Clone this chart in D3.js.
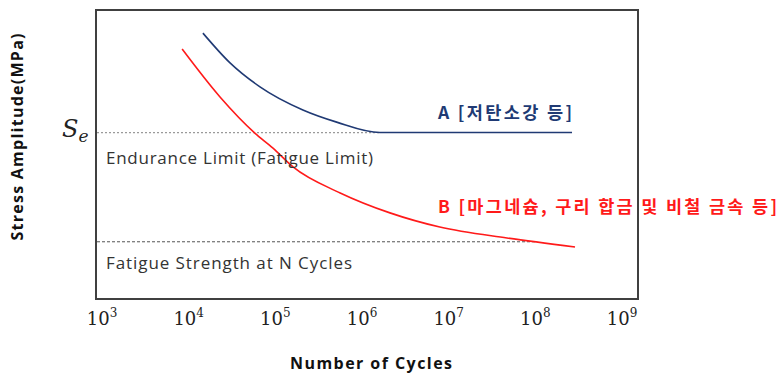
<!DOCTYPE html>
<html>
<head>
<meta charset="utf-8">
<script src="https://cdn.jsdelivr.net/npm/d3@7"></script>
<style>
  body { margin: 0; background: #fff; }
  svg { display: block; }
</style>
</head>
<body>
<script>
// tick exponents on the log axis
var exponents = [3, 4, 5, 6, 7, 8, 9];

// curve A (low carbon steel), cycles vs stress (arbitrary units)
var cyclesA = [1.46e4, 3.0e4, 6.65e4, 2.08e5, 5.1e5, 1.61e6, 2.65e8];
var stressA = [92.0, 81.7, 73.4, 65.4, 61.2, 57.6, 57.6];

// curve B (magnesium, copper alloy, non-ferrous)
var cyclesB = [8.4e3, 2.3e4, 5.8e4, 9.4e4, 1.6e5, 5.6e5, 2.1e6, 7.9e6, 4.7e7, 2.87e8];
var stressB = [86.5, 69.9, 57.4, 52.2, 45.7, 36.7, 29.8, 24.9, 21.1, 18.0];

var enduranceLimit = 57.6;
var enduranceEnd = 1.61e6;
var fatigueStrength = 19.8;
var fatigueEnd = 1.05e8;

var width = 781, height = 374;
var frame = { left: 96, top: 10, right: 638, bottom: 299 };

var svg = d3.select("body").append("svg")
  .attr("width", width)
  .attr("height", height);

var x = d3.scaleLog()
  .domain([1e3, 1e9])
  .range([102, 622]);

var y = d3.scaleLinear()
  .domain([0, 100])
  .range([frame.bottom, frame.top]);

// frame
svg.append("rect")
  .attr("x", frame.left)
  .attr("y", frame.top)
  .attr("width", frame.right - frame.left)
  .attr("height", frame.bottom - frame.top)
  .style("fill", "none")
  .style("stroke", "#404040")
  .style("stroke-width", 2);

// reference lines
svg.append("line")
  .attr("x1", frame.left + 1)
  .attr("x2", x(enduranceEnd))
  .attr("y1", y(enduranceLimit))
  .attr("y2", y(enduranceLimit))
  .style("stroke", "#9a9a9a")
  .style("stroke-width", 1.3)
  .style("stroke-dasharray", "2,2");

svg.append("line")
  .attr("x1", frame.left + 1)
  .attr("x2", x(fatigueEnd))
  .attr("y1", y(fatigueStrength))
  .attr("y2", y(fatigueStrength))
  .style("stroke", "#555")
  .style("stroke-width", 1)
  .style("stroke-dasharray", "3,2");

var line = d3.line()
  .x(function(d) { return x(d[0]); })
  .y(function(d) { return y(d[1]); })
  .curve(d3.curveMonotoneX);

var dataA = d3.zip(cyclesA, stressA);
var dataB = d3.zip(cyclesB, stressB);

svg.append("path")
  .datum(dataA)
  .attr("d", line)
  .style("fill", "none")
  .style("stroke", "#203a74")
  .style("stroke-width", 1.6);

svg.append("path")
  .datum(dataB)
  .attr("d", line)
  .style("fill", "none")
  .style("stroke", "#ff1a1a")
  .style("stroke-width", 1.6);

// x tick labels 10^n
var ticks = svg.selectAll(".tick")
  .data(exponents)
  .enter().append("text")
  .attr("class", "tick")
  .attr("x", function(d) { return x(Math.pow(10, d)); })
  .attr("y", 325)
  .style("text-anchor", "middle")
  .style("font-family", "'DejaVu Serif', 'Liberation Serif', serif")
  .style("font-size", "18px")
  .style("fill", "#222");

ticks.append("tspan").text("10");
ticks.append("tspan")
  .attr("dy", -8)
  .style("font-size", "12px")
  .text(function(d) { return d; });

// S_e label
var se = svg.append("text")
  .attr("x", 62)
  .attr("y", 137)
  .style("font-family", "'DejaVu Serif', 'Liberation Serif', serif")
  .style("font-style", "italic")
  .style("font-size", "24px")
  .style("fill", "#222");
se.append("tspan").text("S");
se.append("tspan")
  .attr("dy", 5)
  .style("font-size", "17px")
  .text("e");

// annotations
var plain = "'Open Sans', 'Noto Sans CJK KR', sans-serif";
var korean = "'Noto Sans CJK KR', 'Open Sans', sans-serif";

function label(tx, ty, txt, len, opts) {
  return svg.append("text")
    .attr("x", tx)
    .attr("y", ty)
    .attr("textLength", len)
    .attr("lengthAdjust", "spacing")
    .style("text-anchor", opts.anchor || "start")
    .style("font-family", opts.font || plain)
    .style("font-weight", opts.weight || "normal")
    .style("font-size", opts.size || "17px")
    .style("fill", opts.color || "#333")
    .text(txt);
}

label(106, 164, "Endurance Limit (Fatigue Limit)", 267, { color: "#333" });
label(106, 269, "Fatigue Strength at N Cycles", 246, { color: "#333" });

label(438, 119, "A [저탄소강 등]", 134, { font: korean, weight: "bold", size: "17.5px", color: "#203a74" });
label(438, 213, "B [마그네슘, 구리 합금 및 비철 금속 등]", 339, { font: korean, weight: "bold", size: "17.5px", color: "#ff1a1a" });

// axis titles
label(0, 0, "Stress Amplitude(MPa)", 207, { anchor: "middle", weight: "bold", size: "16px", color: "#111" })
  .attr("transform", "translate(23,137) rotate(-90)");

label(371, 369, "Number of Cycles", 162, { anchor: "middle", weight: "bold", size: "16px", color: "#111" });
</script>
</body>
</html>
